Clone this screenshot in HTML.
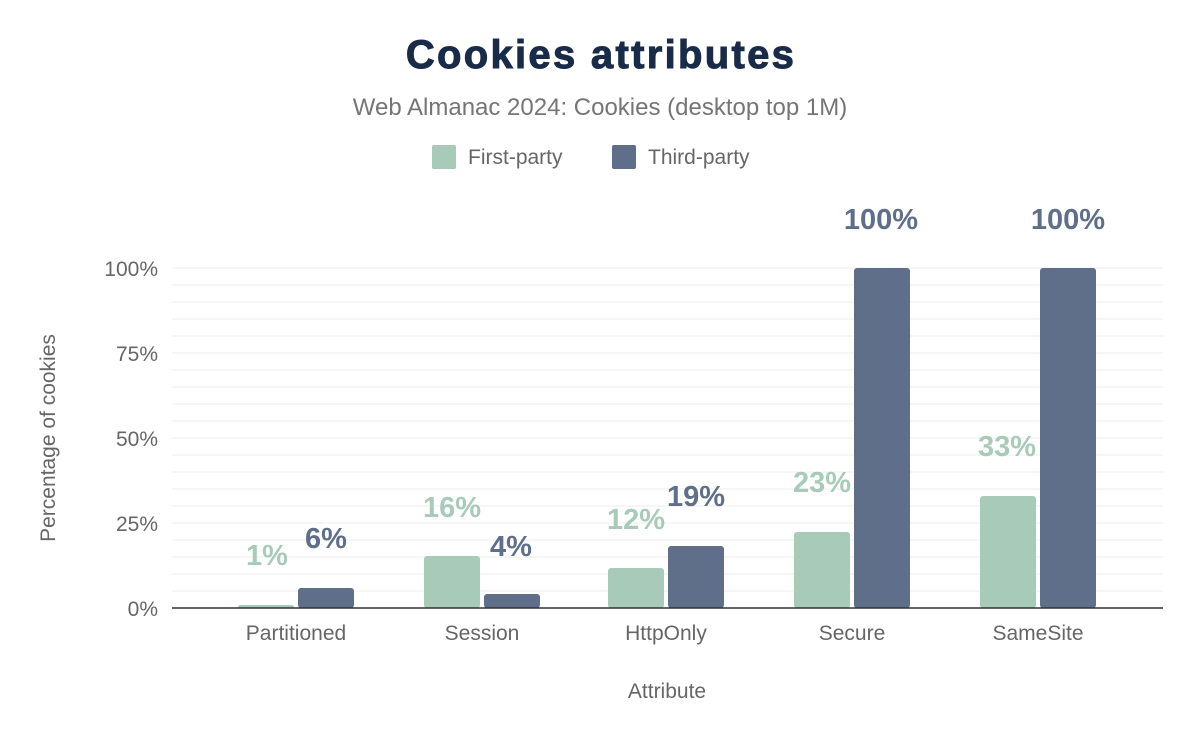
<!DOCTYPE html>
<html><head><style>
body{margin:0;background:#fff;}
svg{display:block;font-family:"Liberation Sans",Arial,sans-serif;}
</style></head><body>
<svg width="1200" height="742" viewBox="0 0 1200 742">
<rect width="1200" height="742" fill="#fff"/>
<text x="601" y="68" text-anchor="middle" font-size="40" font-weight="900" fill="#1a2b49" stroke="#1a2b49" stroke-width="1" style="letter-spacing:2.3px">Cookies attributes</text>
<text x="600" y="115" text-anchor="middle" font-size="24" fill="#757575">Web Almanac 2024: Cookies (desktop top 1M)</text>
<rect x="432" y="145" width="24" height="24" rx="2" fill="#a8cbb9"/>
<text x="468" y="164" font-size="21" fill="#666">First-party</text>
<rect x="612" y="145" width="24" height="24" rx="2" fill="#5f6e89"/>
<text x="648" y="164" font-size="21" fill="#666">Third-party</text>
<g stroke="#ececec" stroke-width="1">
<line x1="172" x2="1163" y1="591" y2="591"/><line x1="172" x2="1163" y1="574" y2="574"/><line x1="172" x2="1163" y1="557" y2="557"/><line x1="172" x2="1163" y1="540" y2="540"/><line x1="172" x2="1163" y1="523" y2="523"/>
<line x1="172" x2="1163" y1="506" y2="506"/><line x1="172" x2="1163" y1="489" y2="489"/><line x1="172" x2="1163" y1="472" y2="472"/><line x1="172" x2="1163" y1="455" y2="455"/><line x1="172" x2="1163" y1="438" y2="438"/>
<line x1="172" x2="1163" y1="421" y2="421"/><line x1="172" x2="1163" y1="404" y2="404"/><line x1="172" x2="1163" y1="387" y2="387"/><line x1="172" x2="1163" y1="370" y2="370"/><line x1="172" x2="1163" y1="353" y2="353"/>
<line x1="172" x2="1163" y1="336" y2="336"/><line x1="172" x2="1163" y1="319" y2="319"/><line x1="172" x2="1163" y1="302" y2="302"/><line x1="172" x2="1163" y1="285" y2="285"/><line x1="172" x2="1163" y1="268" y2="268"/>
</g>
<g font-size="21" fill="#666" text-anchor="end">
<text x="158" y="616">0%</text><text x="158" y="531">25%</text><text x="158" y="446">50%</text><text x="158" y="361">75%</text><text x="158" y="276">100%</text>
</g>
<text transform="translate(55,438) rotate(-90)" text-anchor="middle" font-size="21" fill="#666">Percentage of cookies</text>
<g fill="#a8cbb9">
<rect x="238" y="605" width="56" height="3" rx="3"/>
<rect x="424" y="556" width="56" height="52" rx="3"/>
<rect x="608" y="568" width="56" height="40" rx="3"/>
<rect x="794" y="532" width="56" height="76" rx="3"/>
<rect x="980" y="496" width="56" height="112" rx="3"/>
</g>
<g fill="#5f6e89">
<rect x="298" y="588" width="56" height="20" rx="3"/>
<rect x="484" y="594" width="56" height="14" rx="3"/>
<rect x="668" y="546" width="56" height="62" rx="3"/>
<rect x="854" y="268" width="56" height="340" rx="3"/>
<rect x="1040" y="268" width="56" height="340" rx="3"/>
</g>
<line x1="172" x2="1163" y1="608" y2="608" stroke="#333" stroke-width="1.5"/>
<g font-size="29" font-weight="bold" text-anchor="middle" fill="#a8cbb9">
<text x="267" y="565">1%</text><text x="452" y="517">16%</text><text x="636" y="529">12%</text><text x="822" y="492">23%</text><text x="1007" y="456">33%</text>
</g>
<g font-size="29" font-weight="bold" text-anchor="middle" fill="#5f6e89">
<text x="326" y="548">6%</text><text x="511" y="556">4%</text><text x="696" y="506">19%</text><text x="881" y="229">100%</text><text x="1068" y="229">100%</text>
</g>
<g font-size="21" fill="#666" text-anchor="middle">
<text x="296" y="640">Partitioned</text><text x="482" y="640">Session</text><text x="666" y="640">HttpOnly</text><text x="852" y="640">Secure</text><text x="1038" y="640">SameSite</text>
</g>
<text x="667" y="698" text-anchor="middle" font-size="21" fill="#666">Attribute</text>
</svg>
</body></html>
